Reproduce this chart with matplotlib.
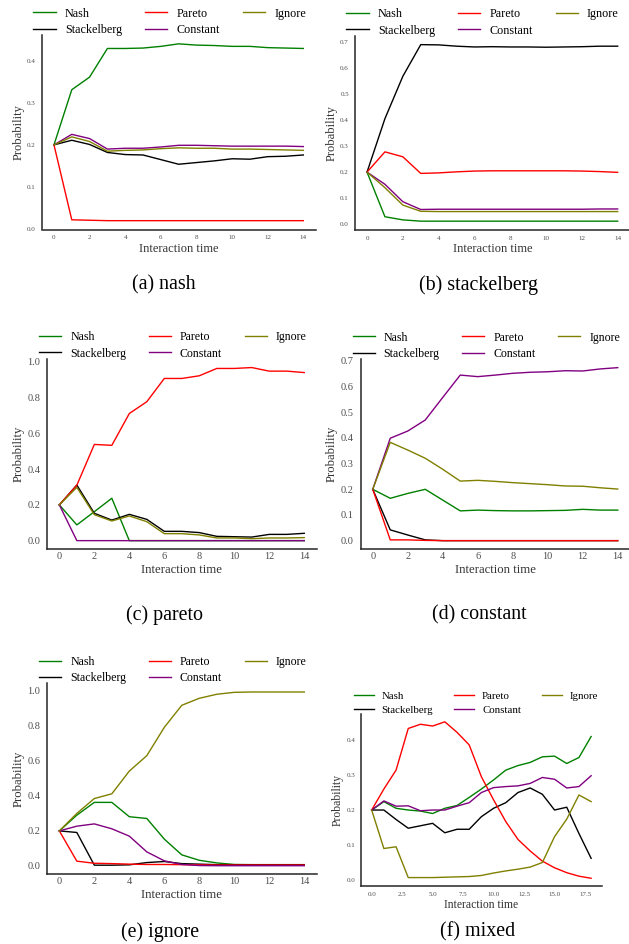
import matplotlib
matplotlib.use("Agg")
from matplotlib import pyplot as plt

plt.rcParams['font.family'] = ['Liberation Serif', 'DejaVu Serif']

# strategy order as drawn (legend fills column-wise)
names = ['Nash', 'Stackelberg', 'Pareto', 'Constant', 'Ignore']
colors = {'Nash': 'green', 'Stackelberg': 'black', 'Pareto': 'red',
          'Constant': 'purple', 'Ignore': 'olive'}

# (a) nash
nash_nash = [0.2, 0.331, 0.361, 0.429, 0.429, 0.430, 0.434, 0.440, 0.437, 0.436, 0.434, 0.434, 0.431, 0.430, 0.429]
nash_stack = [0.2, 0.211, 0.201, 0.182, 0.177, 0.176, 0.165, 0.154, 0.158, 0.162, 0.167, 0.166, 0.172, 0.173, 0.176]
nash_pareto = [0.2, 0.022, 0.021, 0.020, 0.020, 0.020, 0.020, 0.020, 0.020, 0.020, 0.020, 0.020, 0.020, 0.020, 0.020]
nash_const = [0.2, 0.225, 0.215, 0.190, 0.192, 0.192, 0.195, 0.199, 0.199, 0.198, 0.197, 0.197, 0.197, 0.197, 0.196]
nash_ignore = [0.2, 0.219, 0.208, 0.185, 0.187, 0.188, 0.191, 0.193, 0.192, 0.192, 0.190, 0.190, 0.189, 0.188, 0.187]

# (b) stackelberg
stack_nash = [0.2, 0.028, 0.016, 0.011, 0.011, 0.011, 0.011, 0.011, 0.011, 0.011, 0.011, 0.011, 0.011, 0.011, 0.011]
stack_stack = [0.2, 0.406, 0.569, 0.691, 0.690, 0.685, 0.682, 0.683, 0.682, 0.682, 0.681, 0.682, 0.683, 0.685, 0.685]
stack_pareto = [0.2, 0.278, 0.259, 0.195, 0.197, 0.201, 0.204, 0.205, 0.205, 0.205, 0.205, 0.205, 0.204, 0.202, 0.199]
stack_const = [0.2, 0.153, 0.086, 0.056, 0.057, 0.057, 0.057, 0.057, 0.057, 0.057, 0.057, 0.057, 0.057, 0.058, 0.058]
stack_ignore = [0.2, 0.140, 0.073, 0.049, 0.048, 0.048, 0.048, 0.048, 0.048, 0.048, 0.048, 0.048, 0.048, 0.048, 0.048]

# (c) pareto
pareto_nash = [0.2, 0.088, 0.162, 0.237, 0.0, 0.0, 0.0, 0.0, 0.0, 0.0, 0.0, 0.0, 0.0, 0.0, 0.0]
pareto_stack = [0.2, 0.311, 0.153, 0.115, 0.147, 0.119, 0.052, 0.052, 0.045, 0.024, 0.022, 0.020, 0.035, 0.035, 0.041]
pareto_pareto = [0.2, 0.310, 0.538, 0.533, 0.711, 0.777, 0.907, 0.907, 0.922, 0.963, 0.963, 0.968, 0.948, 0.948, 0.940]
pareto_const = [0.2, 0.0, 0.0, 0.0, 0.0, 0.0, 0.0, 0.0, 0.0, 0.0, 0.0, 0.0, 0.0, 0.0, 0.0]
pareto_ignore = [0.2, 0.298, 0.145, 0.110, 0.138, 0.106, 0.039, 0.039, 0.032, 0.015, 0.015, 0.011, 0.015, 0.015, 0.017]

# (d) constant
const_nash = [0.2, 0.165, 0.184, 0.200, 0.158, 0.116, 0.119, 0.117, 0.116, 0.116, 0.117, 0.118, 0.122, 0.119, 0.119]
const_stack = [0.2, 0.042, 0.022, 0.003, 0.0, 0.0, 0.0, 0.0, 0.0, 0.0, 0.0, 0.0, 0.0, 0.0, 0.0]
const_pareto = [0.2, 0.003, 0.003, 0.001, 0.0, 0.0, 0.0, 0.0, 0.0, 0.0, 0.0, 0.0, 0.0, 0.0, 0.0]
const_const = [0.2, 0.399, 0.427, 0.470, 0.558, 0.645, 0.639, 0.645, 0.652, 0.656, 0.658, 0.662, 0.661, 0.669, 0.674]
const_ignore = [0.2, 0.383, 0.353, 0.321, 0.278, 0.232, 0.235, 0.231, 0.226, 0.222, 0.218, 0.213, 0.212, 0.206, 0.201]

# (e) ignore
ignore_nash = [0.2, 0.290, 0.363, 0.363, 0.281, 0.271, 0.153, 0.063, 0.032, 0.017, 0.008, 0.007, 0.007, 0.007, 0.007]
ignore_stack = [0.2, 0.191, 0.004, 0.004, 0.006, 0.019, 0.025, 0.013, 0.010, 0.007, 0.007, 0.007, 0.007, 0.007, 0.007]
ignore_pareto = [0.2, 0.027, 0.015, 0.013, 0.010, 0.008, 0.008, 0.007, 0.006, 0.005, 0.005, 0.005, 0.005, 0.005, 0.005]
ignore_const = [0.2, 0.227, 0.240, 0.212, 0.170, 0.080, 0.029, 0.008, 0.002, 0.001, 0.001, 0.001, 0.001, 0.001, 0.001]
ignore_ignore = [0.2, 0.300, 0.385, 0.412, 0.542, 0.630, 0.792, 0.918, 0.958, 0.981, 0.992, 0.994, 0.994, 0.994, 0.994]

# (f) mixed
mixed_nash = [0.2, 0.224, 0.205, 0.200, 0.197, 0.190, 0.205, 0.213, 0.236, 0.260, 0.286, 0.314, 0.327, 0.336, 0.352, 0.354, 0.333, 0.350, 0.410]
mixed_stack = [0.2, 0.200, 0.173, 0.148, 0.155, 0.162, 0.135, 0.145, 0.145, 0.181, 0.205, 0.221, 0.250, 0.263, 0.245, 0.200, 0.208, 0.133, 0.062]
mixed_pareto = [0.2, 0.260, 0.314, 0.433, 0.445, 0.440, 0.452, 0.422, 0.386, 0.295, 0.229, 0.167, 0.116, 0.083, 0.054, 0.035, 0.021, 0.011, 0.005]
mixed_const = [0.2, 0.226, 0.211, 0.212, 0.198, 0.200, 0.200, 0.211, 0.221, 0.250, 0.264, 0.267, 0.269, 0.276, 0.293, 0.288, 0.263, 0.267, 0.298]
mixed_ignore = [0.2, 0.090, 0.095, 0.007, 0.007, 0.007, 0.008, 0.009, 0.010, 0.013, 0.020, 0.026, 0.031, 0.037, 0.050, 0.124, 0.174, 0.243, 0.224]

captions = ['(a) nash', '(b) stackelberg', '(c) pareto', '(d) constant', '(e) ignore', '(f) mixed']

W, H = 629, 944
fig = plt.figure(figsize=(W / 100, H / 100), dpi=100)


def box(l, t, r, b):
    return [l / W, 1 - b / H, (r - l) / W, (b - t) / H]


# axes boxes in pixels (left, top, right, bottom), plus text sizes per panel
panels = [
    dict(series=[nash_nash, nash_stack, nash_pareto, nash_const, nash_ignore],
         pos=(41.5, 35, 315.8, 229.5), tick=5, lab=9, leg=8.7, cxy=(164, 285)),
    dict(series=[stack_nash, stack_stack, stack_pareto, stack_const, stack_ignore],
         pos=(354.5, 35.8, 630.2, 230), tick=5, lab=9, leg=8.7, cxy=(478, 285)),
    dict(series=[pareto_nash, pareto_stack, pareto_pareto, pareto_const, pareto_ignore],
         pos=(47.1, 358.9, 316.5, 549.3), tick=7.5, lab=9.2, leg=8.6, cxy=(165, 615)),
    dict(series=[const_nash, const_stack, const_pareto, const_const, const_ignore],
         pos=(360.5, 359, 630, 549.3), tick=7.5, lab=9.2, leg=8.6, cxy=(479, 615)),
    dict(series=[ignore_nash, ignore_stack, ignore_pareto, ignore_const, ignore_ignore],
         pos=(47.1, 683.3, 316.5, 874.4), tick=7.5, lab=9.2, leg=8.6, cxy=(160, 932)),
    dict(series=[mixed_nash, mixed_stack, mixed_pareto, mixed_const, mixed_ignore],
         pos=(360.7, 714, 602.1, 886.1), tick=5, lab=8.4, leg=7.8, cxy=(478, 932)),
]

for p, cap in zip(panels, captions):
    ax = fig.add_axes(box(*p['pos']))
    for nm, ys in zip(names, p['series']):
        ax.plot(range(len(ys)), ys, c=colors[nm], lw=1.0, label=nm)
    for s in ['top', 'right']:
        ax.spines[s].set_visible(False)
    for s in ['left', 'bottom']:
        ax.spines[s].set_color('0.15')
        ax.spines[s].set_linewidth(1.1)
    small = p['tick'] < 6
    ax.tick_params(length=0, labelsize=p['tick'], labelcolor='0.3',
                   axis='x', pad=4 if small else 2)
    ax.tick_params(length=0, labelsize=p['tick'], labelcolor='0.3',
                   axis='y', pad=4 if small else 5)
    ax.set_xlabel('Interaction time', fontsize=p['lab'], color='0.2', labelpad=2)
    ax.set_ylabel('Probability', fontsize=p['lab'], color='0.2', labelpad=2)
    ax.legend(ncol=3, frameon=False, loc='lower left', bbox_to_anchor=(-0.034, 0.99),
              fontsize=p['leg'], borderaxespad=0, borderpad=0.1,
              labelspacing=0.35, columnspacing=1.9, handlelength=1.85,
              handletextpad=0.75)
    cx, cy = p['cxy']
    fig.text(cx / W, 1 - cy / H, cap, ha='center', va='center', fontsize=14.4)

fig.savefig('out.png', dpi=100)
